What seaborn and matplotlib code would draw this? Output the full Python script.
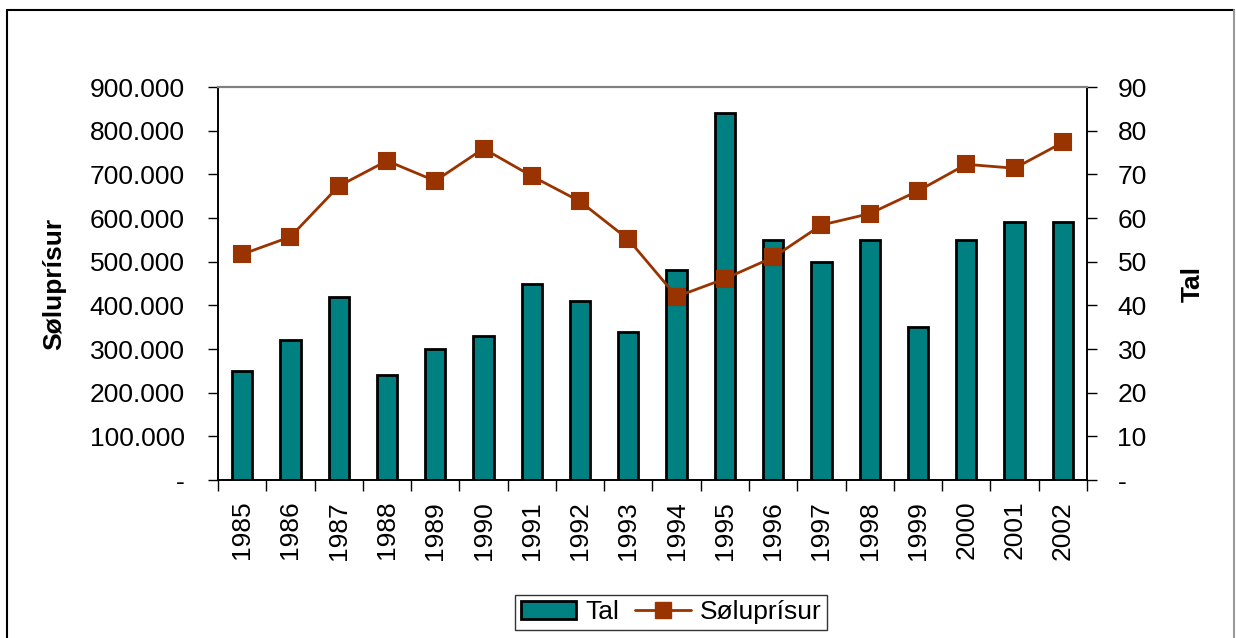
import matplotlib
matplotlib.use("Agg")
import matplotlib.pyplot as plt
import seaborn as sns
import pandas as pd
from matplotlib.lines import Line2D
from matplotlib.patches import Patch
from matplotlib.ticker import FuncFormatter, FixedLocator

years = [str(y) for y in range(1985, 2003)]
tal = [25, 32, 42, 24, 30, 33, 45, 41, 34, 48, 84, 55, 50, 55, 35, 55, 59, 59]
soluprisur = [517000, 557000, 673000, 731000, 685000, 759000, 696000, 638000, 551000,
              420000, 461000, 510000, 584000, 610000, 662000, 723000, 714000, 773000]

df = pd.DataFrame({"year": years, "Tal": tal, "Søluprísur": soluprisur})

sns.set_style("white")
plt.rcParams["font.family"] = ["Liberation Sans", "DejaVu Sans"]
plt.rcParams["text.color"] = "black"
plt.rcParams["axes.labelcolor"] = "black"
plt.rcParams["xtick.color"] = "black"
plt.rcParams["ytick.color"] = "black"

teal = "#008080"
brown = "#993300"

fig = plt.figure(figsize=(12.36, 6.38), dpi=100)
ax = fig.add_axes([0.1764, 0.2476, 0.8794 - 0.1764, 0.8636 - 0.2476])

# bars on the primary axes (scale 0-90, shown on the right)
sns.barplot(data=df, x="year", y="Tal", color=teal, width=0.42, saturation=1,
            edgecolor="black", linewidth=2, ax=ax)
ax.set_ylim(0, 90)

ax2 = ax.twinx()
sns.pointplot(data=df, x="year", y="Søluprísur", color=brown, markers="s",
              markersize=11, linewidth=2, ax=ax2)
ax2.set_ylim(0, 900000)
ax.set_xlim(-0.5, len(years) - 0.5)
ax2.set_xlim(-0.5, len(years) - 0.5)

# swap sides: Tal on right, Søluprísur on left
ax.yaxis.tick_right()
ax.yaxis.set_label_position("right")
ax2.yaxis.tick_left()
ax2.yaxis.set_label_position("left")

ax.set_yticks(range(0, 91, 10))
ax2.set_yticks(range(0, 900001, 100000))
ax.yaxis.set_major_formatter(FuncFormatter(lambda v, p: "-" if v == 0 else f"{int(v)}"))
ax2.yaxis.set_major_formatter(
    FuncFormatter(lambda v, p: "-" if v == 0 else f"{int(v):,}".replace(",", ".")))

ax.set_ylabel("Tal", fontsize=19, fontweight="bold")
ax2.set_ylabel("Søluprísur", fontsize=19, fontweight="bold")
ax.yaxis.set_label_coords(1.122, 0.5)
ax2.yaxis.set_label_coords(-0.1887, 0.5)
ax.yaxis.label.set_verticalalignment("center")
ax2.yaxis.label.set_verticalalignment("center")
ax.set_xlabel("")
ax2.set_xlabel("")

ax.tick_params(axis="y", right=True, left=False, direction="out", length=7, width=1,
               labelsize=19, pad=15, color="black")
ax2.tick_params(axis="y", left=True, right=False, direction="out", length=7, width=1,
                labelsize=19, pad=17, color="black")
ax.set_xticks(range(len(years)))
ax.set_xticklabels(years, rotation=90)
ax.tick_params(axis="x", which="major", length=0, labelsize=19, pad=15)
ax.xaxis.set_minor_locator(FixedLocator([i - 0.5 for i in range(len(years) + 1)]))
ax.tick_params(axis="x", which="minor", bottom=True, direction="out", length=8,
               width=1, color="black")
ax2.tick_params(axis="x", bottom=False, labelbottom=False)

for a in (ax, ax2):
    for side in ("left", "right", "bottom"):
        a.spines[side].set_visible(True)
        a.spines[side].set_color("black")
        a.spines[side].set_linewidth(1.2)
    a.spines["top"].set_color("#808080")
    a.spines["top"].set_linewidth(1.5)

handles = [Patch(facecolor=teal, edgecolor="black", linewidth=2),
           Line2D([], [], color=brown, marker="s", markersize=11, linewidth=2)]
leg = fig.legend(handles, ["Tal", "Søluprísur"], loc="center", ncol=2,
                 bbox_to_anchor=(0.543, 0.040), fontsize=19, frameon=True,
                 fancybox=False, edgecolor="black", borderpad=0.2,
                 handlelength=2.1, handletextpad=0.35, columnspacing=0.6)
leg.get_frame().set_linewidth(1)

# chart area border (left, top, right)
fig.add_artist(Line2D([0.0057, 0.0057], [0, 0.984], color="black", linewidth=1.5,
                      transform=fig.transFigure))
fig.add_artist(Line2D([0.0057, 0.9985], [0.984, 0.984], color="black", linewidth=1.5,
                      transform=fig.transFigure))
fig.add_artist(Line2D([0.9985, 0.9985], [0, 0.984], color="#999999", linewidth=1.5,
                      transform=fig.transFigure))

fig.savefig("out.png", dpi=100)
